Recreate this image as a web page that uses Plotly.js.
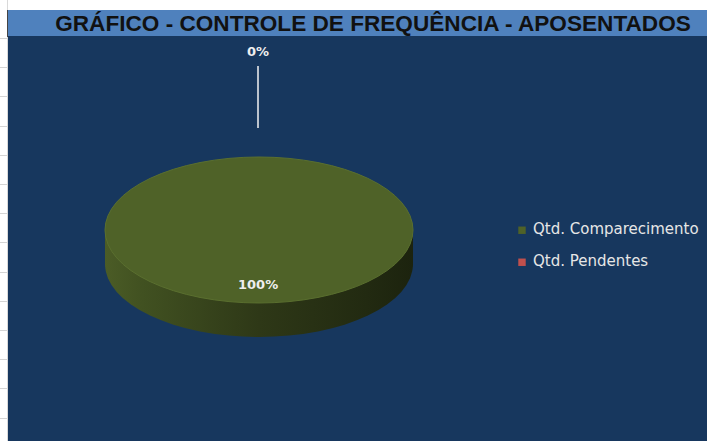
<!DOCTYPE html>
<html>
<head>
<meta charset="utf-8">
<script src="https://cdn.plot.ly/plotly-3.0.1.min.js"></script>
<style>
  html, body { margin: 0; padding: 0; background: #ffffff; width: 707px; height: 441px; overflow: hidden; }
  #strip { position: absolute; left: 0; top: 0; width: 8px; height: 441px; }
  #chart { position: absolute; left: 8px; top: 10px; width: 699px; height: 431px; }
</style>
</head>
<body>
<div id="strip"></div>
<div id="chart"></div>
<script>
// ---- data ----
const chartTitle = 'GRÁFICO - CONTROLE DE FREQUÊNCIA - APOSENTADOS';
const categories = ['Qtd. Comparecimento', 'Qtd. Pendentes'];
const values = [100, 0];
const sliceColors = ['#4F6228', '#C0504D'];

// ---- spreadsheet gridlines in the left strip (decoration) ----
const strip = document.getElementById('strip');
const vline = document.createElement('div');
vline.style.cssText = 'position:absolute;left:7px;top:0;width:1px;height:441px;background:#d9d9d9;';
strip.appendChild(vline);
const vdark = document.createElement('div');
vdark.style.cssText = 'position:absolute;left:7px;top:10px;width:1px;height:27px;background:#444;';
strip.appendChild(vdark);
for (let y = 38; y < 441; y += 29.2) {
  const l = document.createElement('div');
  l.style.cssText = 'position:absolute;left:0;width:7px;height:1px;background:#d4d4d4;top:' + Math.round(y) + 'px;';
  strip.appendChild(l);
}

// ---- geometry / style ----
const W = 699, H = 431;
const CX = 251, CY = 220, R = 154, RY = 73, DEPTH = 34, NSIDE = 14;
const domX = [(CX - R) / W, (CX + R) / W];
const domY = [1 - (CY + R) / H, 1 - (CY - R) / H];

const total = values.reduce((a, b) => a + b, 0);
const pct = values.map(v => Math.round(100 * v / total) + '%');

const traces = [];
const offsets = [];
for (let i = NSIDE; i >= 1; i--) {
  traces.push({
    type: 'pie', labels: categories, values: values, sort: false,
    textinfo: 'none', hoverinfo: 'skip', showlegend: false,
    domain: { x: domX, y: domY },
    marker: { colors: ['#2f3917', '#6b2120'], line: { width: 0 } }
  });
  offsets.push(DEPTH * i / NSIDE);
}
traces.push({
  type: 'pie', labels: categories, values: values, sort: false,
  textinfo: 'none', hoverinfo: 'label+percent', showlegend: true,
  domain: { x: domX, y: domY },
  marker: { colors: sliceColors, line: { width: [1, 0], color: '#5a6f2f' } }
});
offsets.push(0);

const layout = {
  width: W, height: H,
  margin: { l: 0, r: 0, t: 0, b: 0 },
  paper_bgcolor: '#17375E',
  plot_bgcolor: '#17375E',
  title: {
    text: '<b>' + chartTitle + '</b>',
    x: 365 / W, xanchor: 'center', y: 1 - 13.5 / H, yanchor: 'middle',
    font: { family: 'Liberation Sans, Arial, sans-serif', size: 22.6, color: '#111111' }
  },
  shapes: [{
    type: 'rect', xref: 'paper', yref: 'paper', x0: 0, x1: 1, y0: 1 - 26 / H, y1: 1,
    fillcolor: '#4F81BD', line: { width: 0 }, layer: 'below'
  }],
  showlegend: true,
  legend: {
    x: 485 / W, xanchor: 'left', y: 1 - 202 / H, yanchor: 'top',
    bgcolor: 'rgba(0,0,0,0)', borderwidth: 0,
    font: { family: 'DejaVu Sans, sans-serif', size: 15, color: '#E6E6E6' }
  },
  annotations: [
    {
      xref: 'paper', yref: 'paper', x: 250 / W, y: 1 - 274 / H, showarrow: false,
      text: '<b>' + pct[0] + '</b>',
      font: { family: 'DejaVu Sans, sans-serif', size: 13, color: '#EEEEEE' }
    },
    {
      xref: 'paper', yref: 'paper', x: 250 / W, y: 1 - 118 / H,
      showarrow: true, arrowhead: 0, arrowwidth: 1.5, arrowcolor: '#F2F2F2',
      ax: 0, ay: -76, startstandoff: 5,
      text: '<b>' + pct[1] + '</b>',
      font: { family: 'DejaVu Sans, sans-serif', size: 13, color: '#EEEEEE' }
    }
  ]
};

const gd = document.getElementById('chart');
Plotly.newPlot(gd, traces, layout, { displayModeBar: false, staticPlot: true }).then(function () {
  const svg = gd.querySelector('svg.main-svg');
  const NS = 'http://www.w3.org/2000/svg';
  let defs = svg.querySelector('defs');
  if (!defs) { defs = document.createElementNS(NS, 'defs'); svg.insertBefore(defs, svg.firstChild); }
  const grad = document.createElementNS(NS, 'linearGradient');
  grad.setAttribute('id', 'sideGrad');
  grad.setAttribute('gradientUnits', 'userSpaceOnUse');
  grad.setAttribute('x1', CX - R); grad.setAttribute('x2', CX + R);
  grad.setAttribute('y1', 0); grad.setAttribute('y2', 0);
  [[0, '#4b5c26'], [0.12, '#415121'], [0.5, '#2e3817'], [0.85, '#222a11'], [1, '#1c230e']].forEach(function (s) {
    const st = document.createElementNS(NS, 'stop');
    st.setAttribute('offset', s[0]); st.setAttribute('stop-color', s[1]);
    grad.appendChild(st);
  });
  defs.appendChild(grad);

  const k = RY / R;
  const groups = gd.querySelectorAll('.pielayer .trace');
  groups.forEach(function (g, i) {
    const cd = gd.calcdata[i] && gd.calcdata[i][0];
    const cy = (cd && cd.cy) ? cd.cy : CY;
    const off = offsets[i];
    g.querySelectorAll('path.surface').forEach(function (p, j) {
      p.setAttribute('transform', 'translate(0,' + (cy + off) + ') scale(1,' + k + ') translate(0,' + (-cy) + ')');
      p.setAttribute('vector-effect', 'non-scaling-stroke');
      if (i < groups.length - 1 && j === 0) p.style.fill = 'url(#sideGrad)';
    });
  });

  // legend fine-tuning
  const sb = gd.querySelector('.legend .scrollbox');
  if (sb) sb.removeAttribute('clip-path');
  const items = gd.querySelectorAll('.legend .traces');
  if (items.length > 1) {
    const m = /translate\(\s*([-\d.]+)[ ,]+([-\d.]+)/.exec(items[0].getAttribute('transform') || '');
    if (m) {
      const x0 = parseFloat(m[1]), y0 = parseFloat(m[2]);
      items.forEach(function (it, j) { it.setAttribute('transform', 'translate(' + x0 + ',' + (y0 + j * 32) + ')'); });
    }
  }
  gd.querySelectorAll('.legend path.legendpie').forEach(function (p) {
    p.setAttribute('transform', 'translate(29,2) scale(0.62)');
    p.style.strokeWidth = '0';
  });
});
</script>
</body>
</html>
